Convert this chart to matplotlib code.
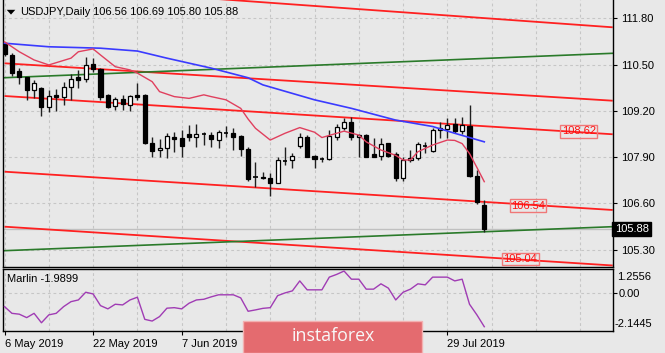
import matplotlib
matplotlib.use("Agg")
import matplotlib.pyplot as plt
from matplotlib.patches import Rectangle, Polygon

# ---------------- data ----------------
symbol_title = "USDJPY,Daily"

opens = [111.10, 110.77, 110.31, 110.16, 109.79, 109.84, 109.32, 109.64, 109.59, 109.86,
         110.16, 110.10, 110.51, 110.37, 109.64, 109.34, 109.53, 109.36, 109.64, 109.64,
         108.31, 108.10, 108.16, 108.47, 108.43, 108.55, 108.47, 108.56, 108.52, 108.38,
         108.57, 108.57, 108.49, 108.14, 107.35, 107.34, 107.32, 107.16, 107.80, 107.82,
         108.22, 108.47, 107.93, 107.85, 107.85, 108.47, 108.73, 108.88, 108.46, 108.52,
         107.99, 107.94, 108.29, 107.99, 107.30, 107.82, 107.88, 108.22, 108.07, 108.66,
         108.69, 108.82, 108.62, 108.78, 107.38, 106.56]
highs = [111.14, 110.82, 110.40, 110.16, 110.07, 109.88, 109.79, 109.81, 110.02, 110.23,
         110.35, 110.72, 110.68, 110.40, 109.68, 109.60, 109.64, 109.64, 109.97, 109.66,
         108.47, 108.40, 108.57, 108.61, 108.66, 108.80, 108.82, 108.61, 108.61, 108.66,
         108.78, 108.71, 108.52, 108.19, 107.77, 107.49, 107.45, 107.91, 108.19, 108.01,
         108.57, 108.52, 107.96, 107.91, 108.66, 108.82, 108.99, 109.04, 108.54, 108.54,
         108.43, 108.43, 108.31, 108.05, 107.89, 108.10, 108.32, 108.33, 108.71, 108.88,
         108.99, 108.99, 109.04, 109.36, 107.54, 106.69]
lows = [110.75, 110.19, 109.95, 109.50, 109.55, 109.05, 109.17, 109.19, 109.36, 109.50,
        109.83, 110.02, 110.28, 109.50, 109.29, 109.22, 109.22, 109.19, 109.50, 108.28,
        107.91, 107.91, 107.87, 108.05, 107.91, 108.35, 108.19, 108.24, 108.19, 108.15,
        108.47, 108.10, 107.94, 107.23, 107.07, 107.29, 106.82, 107.16, 107.68, 107.60,
        108.15, 107.91, 107.59, 107.75, 107.82, 108.38, 108.66, 108.38, 107.91, 107.89,
        107.91, 107.82, 107.91, 107.24, 107.24, 107.75, 107.82, 108.01, 108.05, 108.43,
        108.43, 108.57, 108.54, 107.35, 106.58, 105.80]
closes = [110.79, 110.26, 110.14, 109.79, 109.98, 109.32, 109.63, 109.59, 109.88, 110.10,
          110.07, 110.49, 110.37, 109.60, 109.32, 109.53, 109.38, 109.61, 109.60, 108.31,
          108.08, 108.15, 108.50, 108.40, 108.21, 108.47, 108.55, 108.55, 108.40, 108.60,
          108.56, 108.47, 108.13, 107.28, 107.33, 107.32, 107.18, 107.82, 107.79, 107.93,
          108.47, 107.91, 107.85, 107.84, 108.50, 108.76, 108.88, 108.47, 108.52, 107.91,
          107.91, 108.26, 107.94, 107.30, 107.82, 107.88, 108.26, 108.21, 108.66, 108.73,
          108.80, 108.62, 108.80, 107.38, 106.65, 105.88]

# visible date labels (the others are hidden under the logo)
date_label_idx = [0, 12, 24, 60]
date_labels = ["6 May 2019", "22 May 2019", "7 Jun 2019", "29 Jul 2019"]

price_ticks = [111.80, 110.50, 109.20, 107.90, 106.60, 105.30]

# slow moving average (blue)
ma_slow_idx = [0, 6, 13, 18, 22, 28, 33, 35, 42, 47, 53, 58, 61, 65]
ma_slow_val = [111.10, 111.00, 110.96, 110.88, 110.68, 110.40, 110.13, 109.93, 109.51,
               109.27, 108.94, 108.76, 108.57, 108.33]

# fast moving average (crimson)
ma_fast_idx = [0, 2, 4, 6, 9, 10, 12, 13, 15, 17, 18, 20, 21, 23, 25, 27, 28, 30, 32, 33,
               34, 36, 38, 40, 42, 43, 45, 46, 48, 49, 51, 53, 54, 55, 56, 58, 60, 61, 62,
               63, 64, 65]
ma_fast_val = [111.14, 110.86, 110.63, 110.49, 110.68, 110.86, 110.94, 110.77, 110.44, 110.35,
               110.26, 110.02, 109.74, 109.60, 109.55, 109.65, 109.60, 109.51, 109.27, 108.97,
               108.71, 108.38, 108.57, 108.73, 108.60, 108.45, 108.57, 108.63, 108.52, 108.33,
               108.10, 107.95, 107.82, 107.82, 108.05, 108.24, 108.38, 108.37, 108.28,
               108.00, 107.61, 107.21]

# trend lines: price at the two anchor bars
trend_anchor_idx = [0, 82.4]
red_lines = [[112.77, 111.547],
             [110.536, 109.485],
             [109.617, 108.542],
             [107.491, 106.415],
             [105.946, 104.856]]
green_lines = [[110.131, 110.817],
               [105.272, 105.946]]

line_label_idx = [77.8, 70.9, 69.9]
line_label_val = [108.62, 106.54, 105.04]

marlin = [-0.82, -1.21, -1.26, -1.46, -1.21, -1.76, -1.30, -1.21, -0.82, -0.53,
          -0.43, 0.02, -0.08, -0.76, -0.95, -0.68, -0.72, -0.43, -0.27, -1.56,
          -1.66, -1.40, -0.91, -0.88, -0.95, -0.62, -0.43, -0.39, -0.25, -0.13,
          -0.13, -0.13, -0.31, -1.09, -1.01, -0.92, -0.88, -0.18, -0.02, 0.10,
          0.68, 0.16, 0.16, 0.16, 0.90, 1.06, 1.2556, 0.78, 0.78, 0.20,
          0.20, 0.51, 0.26, -0.43, 0.02, 0.20, 0.51, 0.45, 0.90, 0.90,
          0.90, 0.68, 0.78, -0.68, -1.30, -1.9899]
marlin_max_label = 1.2556
marlin_min_label = -2.1445

# ---------------- figure ----------------
W, H = 665, 353
BG = "#e8e8e8"
plt.rcParams["font.family"] = ["Liberation Sans", "DejaVu Sans"]
fig = plt.figure(figsize=(W / 100, H / 100), dpi=100)
fig.patch.set_facecolor(BG)


def px_axes(l, t, r, b):
    return fig.add_axes([l / W, 1 - b / H, (r - l) / W, (b - t) / H])


ax = px_axes(2.7, 0, 612.7, 266.7)
osc = px_axes(2.7, 268.8, 612.7, 330.5)

XL = (-0.25, 82.4)
for a in (ax, osc):
    a.set_facecolor(BG)
    a.set_xlim(*XL)
    for s in a.spines.values():
        s.set_color("black")
        s.set_linewidth(1.0)
ax.spines["top"].set_visible(False)

ax.set_ylim(104.822, 112.314)
osc.set_ylim(-2.211, 1.386)

grid_idx = list(range(0, 83, 6))
grid_kw = dict(color="#c6c6c6", lw=0.8, ls=(0, (2.5, 2.5)), zorder=0.5)
for a in (ax, osc):
    for g in grid_idx:
        a.axvline(g, **grid_kw)
for p in price_ticks:
    ax.axhline(p, **grid_kw)
osc.axhline(0, **grid_kw)

# y axis right
ax.yaxis.tick_right()
ax.set_yticks(price_ticks)
ax.set_yticklabels(["%.2f" % p for p in price_ticks])
ax.tick_params(axis="y", direction="out", length=3, pad=3, labelsize=8, colors="black")
ax.set_xticks([])

osc.yaxis.tick_right()
osc.set_yticks([0])
osc.set_yticklabels(["0.00"])
osc.tick_params(axis="y", direction="out", length=3, pad=1.5, labelsize=8)
osc.text(1.0 + 4 / 610, 0.87, "%.4f" % marlin_max_label, transform=osc.transAxes, fontsize=8,
         ha="left", va="center", clip_on=False)
osc.text(1.0 + 2 / 610, 0.11, "%.4f" % marlin_min_label, transform=osc.transAxes, fontsize=8,
         ha="left", va="center", clip_on=False)

osc.set_xticks(date_label_idx)
osc.set_xticklabels(date_labels)
osc.tick_params(axis="x", direction="out", length=3, pad=3, labelsize=8)
for lab in osc.get_xticklabels():
    lab.set_ha("left")

# trend lines
for ln in red_lines:
    ax.plot(trend_anchor_idx, ln, color="#ff2020", lw=1.3, zorder=2, solid_capstyle="butt")
for ln in green_lines:
    ax.plot(trend_anchor_idx, ln, color="#2a7a2a", lw=1.2, zorder=2)

# bid line
ax.axhline(closes[-1], color="#c0c0c0", lw=1.0, zorder=1)

# candles
w = 0.55
for i in range(len(opens)):
    o, h, l, c = opens[i], highs[i], lows[i], closes[i]
    ax.vlines(i, l, h, color="#202020", lw=1.0, zorder=3)
    if abs(c - o) < 0.02:
        ax.hlines(o, i - w / 2, i + w / 2, color="black", lw=1.2, zorder=4)
    elif c > o:
        ax.add_patch(Rectangle((i - w / 2, o), w, c - o, fc="white", ec="black", lw=0.9, zorder=4))
    else:
        ax.add_patch(Rectangle((i - w / 2, c), w, o - c, fc="black", ec="black", lw=0.9, zorder=4))

# moving averages
ax.plot(ma_slow_idx, ma_slow_val, color="#3a3aff", lw=1.2, zorder=5)
ax.plot(ma_fast_idx, ma_fast_val, color="#e0405e", lw=1.0, zorder=5)

# line labels
for xi, v in zip(line_label_idx, line_label_val):
    ax.text(xi, v, "%.2f" % v, color="#ff1010", fontsize=8, ha="center", va="center", zorder=6,
            bbox=dict(boxstyle="square,pad=0.12", fc="none", ec="#f07878", lw=1.0))

# bid label
ax.text(1.0 + 2 / 610, closes[-1], "%.2f" % closes[-1], transform=ax.get_yaxis_transform(),
        color="white", fontsize=8, ha="left", va="center", zorder=7, clip_on=False,
        bbox=dict(boxstyle="square,pad=0.22", fc="black", ec="black"))

# oscillator
osc.plot(range(len(marlin)), marlin, color="#a03cb4", lw=1.0, zorder=3)
osc.text(4 / 610, 0.835, "Marlin %.4f" % marlin[-1], transform=osc.transAxes, fontsize=8,
         ha="left", va="center")

# title
fig.add_artist(Polygon([[6.7 / W, 1 - 9.8 / H], [15.3 / W, 1 - 9.8 / H], [11 / W, 1 - 14.6 / H]],
                       closed=True, transform=fig.transFigure, fc="black", ec="none"))
fig.text(20 / W, 1 - 12 / H, symbol_title, fontsize=8, ha="left", va="center")
fig.text(93 / W, 1 - 12 / H, "%.2f %.2f %.2f %.2f" % (opens[-1], highs[-1], lows[-1], closes[-1]),
         fontsize=8, ha="left", va="center")

# logo
fig.add_artist(Rectangle((243.3 / W, 0), (422.3 - 243.3) / W, (353 - 321) / H,
                         transform=fig.transFigure, fc="#e46b6f", ec="#f3b0b0", lw=1.0, zorder=10))
fig.text((243.3 + 422.3) / 2 / W, 1 - 336 / H, "instaforex", fontsize=12.8, color="#f8f8f8",
         family=["Open Sans", "DejaVu Sans"], ha="center", va="center", zorder=11)

fig.savefig("out.png", dpi=100, facecolor=BG)
